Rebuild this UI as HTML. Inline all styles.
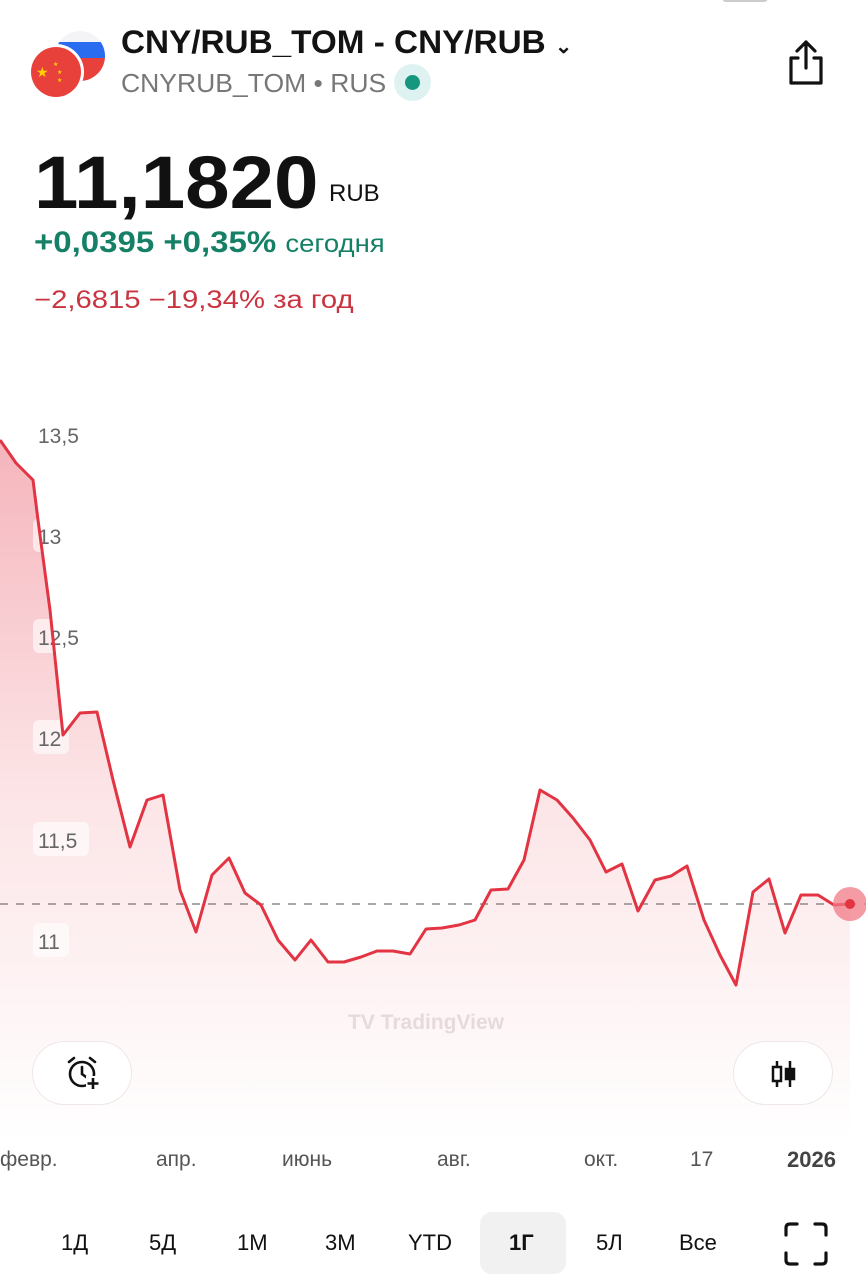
<!DOCTYPE html>
<html><head><meta charset="utf-8"><style>
body{margin:0;width:866px;height:1280px;background:#fff;font-family:"Liberation Sans",sans-serif;position:relative;overflow:hidden}
.a{position:absolute;white-space:nowrap;transform-origin:0 0}
</style></head><body>
<div class="a" style="left:722px;top:-6px;width:46px;height:8px;background:#ccc;border-radius:4px"></div>
<svg class="a" style="left:28px;top:22px" width="80" height="80">
<clipPath id="r"><circle cx="52" cy="34" r="25"/></clipPath>
<g clip-path="url(#r)"><rect x="20" y="0" width="70" height="20" fill="#f4f4f6"/><rect x="20" y="20" width="70" height="16" fill="#2a6cf0"/><rect x="20" y="36" width="70" height="30" fill="#e8413c"/></g>
<circle cx="28" cy="50" r="28" fill="#fff"/><circle cx="28" cy="50" r="25" fill="#e8413c"/>
<text x="8" y="55" font-size="14" fill="#ffd200">★</text><text x="25" y="44" font-size="6" fill="#ffd200">★</text><text x="29" y="52" font-size="6" fill="#ffd200">★</text><text x="29" y="60" font-size="6" fill="#ffd200">★</text>
</svg>
<div class="a" style="left:121px;top:24px;font-size:32px;font-weight:bold;color:#131313;transform:scaleX(1.04)">CNY/RUB_TOM - CNY/RUB <span style="font-size:20px">⌄</span></div>
<div class="a" style="left:121px;top:68px;font-size:26px;color:#777;transform:scaleX(1.02)">CNYRUB_TOM • RUS</div>
<div class="a" style="left:394px;top:64px;width:37px;height:37px;border-radius:50%;background:#dff2f2"></div>
<div class="a" style="left:405px;top:75px;width:15px;height:15px;border-radius:50%;background:#16977d"></div>
<svg class="a" style="left:786px;top:38px" width="40" height="50"><path d="M20 4V30M11 13L20 4L29 13M12 20H5V45H35V20H28" fill="none" stroke="#111" stroke-width="3.2" stroke-linejoin="round" stroke-linecap="round"/></svg>
<div class="a" style="left:34px;top:140px;font-size:74px;font-weight:bold;color:#111;transform:scaleX(1.08)">11,1820</div>
<div class="a" style="left:329px;top:180px;font-size:24px;color:#111">RUB</div>
<div class="a" style="left:34px;top:226px;font-size:30px;color:#168066;font-weight:bold;transform:scaleX(1.1)">+0,0395 +0,35% <span style="font-size:25px;font-weight:normal">сегодня</span></div>
<div class="a" style="left:34px;top:286px;font-size:25px;color:#c93440;transform:scaleX(1.17)">−2,6815 −19,34% за год</div>
<svg class="a" style="left:0;top:0" width="866" height="1280">
<defs><linearGradient id="g" x1="0" y1="0" x2="0" y2="1"><stop offset="0" stop-color="#f5b5bc"/><stop offset="0.5" stop-color="#fce4e6"/><stop offset="1" stop-color="#fff"/></linearGradient></defs>
<path d="M0,440 L16,463 L33,480 L38,520 L50,610 L63,735 L80,713 L97,712 L113,780 L130,847 L147,800 L163,795 L180,890 L196,932 L212,875 L229,858 L245,893 L261,905 L278,940 L295,960 L311,940 L328,962 L344,962 L361,957 L377,951 L393,951 L410,954 L426,929 L442,928 L459,925 L475,920 L491,890 L508,889 L524,860 L540,790 L557,800 L573,818 L590,840 L606,872 L622,864 L638,911 L655,880 L671,876 L687,866 L704,920 L720,955 L736,985 L753,892 L769,879 L785,933 L801,895 L818,895 L834,905 L850,904 L850,1140 L0,1140Z" fill="url(#g)"/>
<g font-size="21" fill="#666">
<rect x="33" y="518" width="34" height="34" rx="6" fill="#fff" opacity="0.6"/><rect x="33" y="619" width="52" height="34" rx="6" fill="#fff" opacity="0.6"/><rect x="33" y="720" width="36" height="34" rx="6" fill="#fff" opacity="0.6"/><rect x="33" y="822" width="56" height="34" rx="6" fill="#fff" opacity="0.6"/><rect x="33" y="923" width="36" height="34" rx="6" fill="#fff" opacity="0.6"/>
<text x="38" y="443">13,5</text><text x="38" y="544">13</text><text x="38" y="645">12,5</text><text x="38" y="746">12</text><text x="38" y="848">11,5</text><text x="38" y="949">11</text></g>
<line x1="0" y1="904" x2="866" y2="904" stroke="#777" stroke-dasharray="8,8" stroke-width="1.3"/>
<path d="M0,440 L16,463 L33,480 L38,520 L50,610 L63,735 L80,713 L97,712 L113,780 L130,847 L147,800 L163,795 L180,890 L196,932 L212,875 L229,858 L245,893 L261,905 L278,940 L295,960 L311,940 L328,962 L344,962 L361,957 L377,951 L393,951 L410,954 L426,929 L442,928 L459,925 L475,920 L491,890 L508,889 L524,860 L540,790 L557,800 L573,818 L590,840 L606,872 L622,864 L638,911 L655,880 L671,876 L687,866 L704,920 L720,955 L736,985 L753,892 L769,879 L785,933 L801,895 L818,895 L834,905 L850,904" fill="none" stroke="#e23443" stroke-width="3" stroke-linejoin="round"/>
<circle cx="850" cy="904" r="17" fill="#f07a86" opacity="0.75"/><circle cx="850" cy="904" r="5" fill="#e23443"/>
<text x="348" y="1029" font-size="21" fill="#e6dadb" font-weight="bold">TV TradingView</text>
</svg>
<div class="a" style="left:33px;top:1042px;width:98px;height:62px;border-radius:31px;background:#fff;box-shadow:0 0 0 1px #f0e6e7"></div>
<svg class="a" style="left:64px;top:1054px" width="38" height="38"><circle cx="18" cy="20" r="12" fill="none" stroke="#111" stroke-width="2.6"/><path d="M18 13V20L22 23M5 8L10 4M31 8L26 4" stroke="#111" stroke-width="2.6" fill="none" stroke-linecap="round"/><rect x="22" y="22" width="14" height="14" fill="#fff"/><path d="M29 24V35M23.5 29.5H34.5" stroke="#111" stroke-width="2.6"/></svg>
<div class="a" style="left:734px;top:1042px;width:98px;height:62px;border-radius:31px;background:#fff;box-shadow:0 0 0 1px #f0e6e7"></div>
<svg class="a" style="left:770px;top:1059px" width="28" height="30"><path d="M7 2V28M20 2V28" stroke="#111" stroke-width="2.5"/><rect x="3" y="8" width="8" height="14" fill="#fff" stroke="#111" stroke-width="2.5"/><rect x="16" y="10" width="8" height="10" fill="#111" stroke="#111" stroke-width="2.5"/></svg>
<div class="a" style="top:1148px;font-size:21px;color:#555;left:0">февр.</div>
<div class="a" style="top:1148px;font-size:21px;color:#555;left:156px">апр.</div>
<div class="a" style="top:1148px;font-size:21px;color:#555;left:282px">июнь</div>
<div class="a" style="top:1148px;font-size:21px;color:#555;left:437px">авг.</div>
<div class="a" style="top:1148px;font-size:21px;color:#555;left:584px">окт.</div>
<div class="a" style="top:1148px;font-size:21px;color:#555;left:690px">17</div>
<div class="a" style="top:1147px;font-size:22px;color:#444;left:787px;font-weight:bold">2026</div>
<div class="a" style="left:480px;top:1212px;width:86px;height:62px;border-radius:12px;background:#f1f1f1"></div>
<div class="a" style="top:1230px;font-size:22px;color:#111;left:61px">1Д</div>
<div class="a" style="top:1230px;font-size:22px;color:#111;left:149px">5Д</div>
<div class="a" style="top:1230px;font-size:22px;color:#111;left:237px">1М</div>
<div class="a" style="top:1230px;font-size:22px;color:#111;left:325px">3М</div>
<div class="a" style="top:1230px;font-size:22px;color:#111;left:408px">YTD</div>
<div class="a" style="top:1230px;font-size:22px;color:#111;left:509px;font-weight:bold">1Г</div>
<div class="a" style="top:1230px;font-size:22px;color:#111;left:596px">5Л</div>
<div class="a" style="top:1230px;font-size:22px;color:#111;left:679px">Все</div>
<svg class="a" style="left:784px;top:1222px" width="44" height="44"><path d="M2 13V6Q2 2 6 2H13M31 2H38Q42 2 42 6V13M42 31V38Q42 42 38 42H31M13 42H6Q2 42 2 38V31" fill="none" stroke="#111" stroke-width="3.2" stroke-linecap="round"/></svg>
</body></html>
